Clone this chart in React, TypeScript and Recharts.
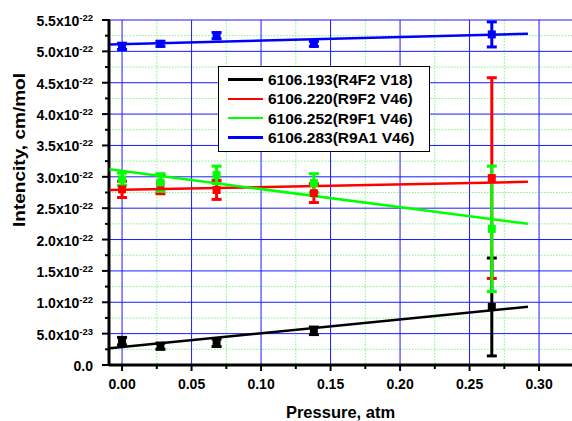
import React from 'react';
import {
  ComposedChart,
  Scatter,
  ErrorBar,
  XAxis,
  YAxis,
  CartesianGrid,
  Legend,
} from 'recharts';

// pressure (atm) of the five measurements
const pressure = [0, 0.0276, 0.068, 0.138, 0.266];

// intensities (cm/mol) and their errors, one pair per line
const int193 = [0.38e-22, 0.3e-22, 0.355e-22, 0.545e-22, 0.925e-22];
const err193 = [0.06e-22, 0.05e-22, 0.06e-22, 0.06e-22, 0.78e-22];
const int220 = [2.8e-22, 2.88e-22, 2.79e-22, 2.74e-22, 2.98e-22];
const err220 = [0.13e-22, 0.15e-22, 0.15e-22, 0.15e-22, 1.6e-22];
const int252 = [2.96e-22, 2.91e-22, 3.03e-22, 2.9e-22, 2.17e-22];
const err252 = [0.1e-22, 0.14e-22, 0.14e-22, 0.15e-22, 1.0e-22];
const int283 = [5.08e-22, 5.12e-22, 5.25e-22, 5.12e-22, 5.27e-22];
const err283 = [0.05e-22, 0.04e-22, 0.05e-22, 0.04e-22, 0.2e-22];

// linear fit end points
const fitX = [-0.009, 0.292];
const fit193 = [0.266e-22, 0.93e-22];
const fit220 = [2.79e-22, 2.92e-22];
const fit252 = [3.12e-22, 2.25e-22];
const fit283 = [5.11e-22, 5.28e-22];

const seriesNames = [
  '6106.193(R4F2 V18)',
  '6106.220(R9F2 V46)',
  '6106.252(R9F1 V46)',
  '6106.283(R9A1 V46)',
];
const seriesColors = ['#000000', '#ff0000', '#00ff00', '#0000ff'];

const xMajor = [0, 0.05, 0.1, 0.15, 0.2, 0.25, 0.3];
const xMinor = [0.025, 0.075, 0.125, 0.175, 0.225, 0.275];
const yMajor = [
  0, 0.5e-22, 1.0e-22, 1.5e-22, 2.0e-22, 2.5e-22, 3.0e-22, 3.5e-22, 4.0e-22, 4.5e-22,
  5.0e-22, 5.5e-22,
];
const yMinor = [
  0.25e-22, 0.75e-22, 1.25e-22, 1.75e-22, 2.25e-22, 2.75e-22, 3.25e-22, 3.75e-22,
  4.25e-22, 4.75e-22, 5.25e-22,
];

const FONT = '"Liberation Sans", Arial, sans-serif';

const points = (vals: number[], errs: number[]) =>
  pressure.map((x, i) => ({ x, y: vals[i], e: errs[i] }));
const fitPoints = (vals: number[]) => fitX.map((x, i) => ({ x, y: vals[i] }));

const Square = (color: string) => (p: any) => (
  <rect x={p.cx - 4} y={p.cy - 4} width={8} height={8} fill={color} />
);

const XTick = (props: any) => {
  const { x, y, payload } = props;
  const major = xMajor.includes(payload.value);
  return (
    <g>
      <line x1={x} x2={x} y1={y} y2={y + (major ? 6 : 4)} stroke="#000" strokeWidth={2} />
      {major && (
        <text
          x={x}
          y={y + 24}
          textAnchor="middle"
          fontFamily={FONT}
          fontWeight="bold"
          fontSize={14}
          fill="#000"
        >
          {payload.value.toFixed(2)}
        </text>
      )}
    </g>
  );
};

const YTick = (props: any) => {
  const { x, y, payload } = props;
  const v = payload.value;
  const major = yMajor.includes(v);
  let main = '0.0';
  let sup = '';
  if (v !== 0) {
    const exp = Math.floor(Math.log10(v) + 1e-9);
    main = (v / Math.pow(10, exp)).toFixed(1) + 'x10';
    sup = String(exp);
  }
  return (
    <g>
      <line x1={x - (major ? 7 : 4)} x2={x + 1} y1={y} y2={y} stroke="#000" strokeWidth={2} />
      {major && (
        <text
          x={x - 16}
          y={y + 6}
          textAnchor="end"
          fontFamily={FONT}
          fontWeight="bold"
          fontSize={14}
          fill="#000"
        >
          {main}
          {sup && (
            <tspan fontSize={9.5} dy={-5}>
              {sup}
            </tspan>
          )}
        </text>
      )}
    </g>
  );
};

const YTitle = () => (
  <text
    x={25}
    y={150}
    transform="rotate(-90, 25, 150)"
    textAnchor="middle"
    fontFamily={FONT}
    fontWeight="bold"
    fontSize={16}
    textLength={154}
    lengthAdjust="spacingAndGlyphs"
    fill="#000"
  >
    Intencity, cm/mol
  </text>
);

const XTitle = (props: any) => {
  const vb = props.viewBox || { x: 109, width: 463 };
  return (
    <text
      x={vb.x + vb.width / 2}
      y={418}
      textAnchor="middle"
      fontFamily={FONT}
      fontWeight="bold"
      fontSize={16.5}
      fill="#000"
    >
      Pressure, atm
    </text>
  );
};

const LegendBox = () => (
  <div
    style={{
      width: 210,
      height: 81,
      border: '1px solid #000',
      background: '#fff',
      paddingTop: 3,
      boxSizing: 'content-box',
      fontFamily: FONT,
      fontWeight: 'bold',
      fontSize: 15.5,
    }}
  >
    {seriesNames.map((name, i) => (
      <div key={name} style={{ display: 'flex', alignItems: 'center', height: 19.3, lineHeight: '19.3px' }}>
        <div style={{ width: 35, height: 2.5, background: seriesColors[i], marginLeft: 9, marginRight: 5 }} />
        <span style={{ whiteSpace: 'nowrap' }}>{name}</span>
      </div>
    ))}
  </div>
);

export default function App() {
  const sets = [
    { data: points(int193, err193), fit: fitPoints(fit193) },
    { data: points(int220, err220), fit: fitPoints(fit220) },
    { data: points(int252, err252), fit: fitPoints(fit252) },
    { data: points(int283, err283), fit: fitPoints(fit283) },
  ];

  return (
    <div style={{ position: 'absolute', left: 0, top: 0, background: '#fff' }}>
      <ComposedChart width={572} height={421} margin={{ top: 20, right: 0, left: 8, bottom: 0 }}>
        <CartesianGrid
          horizontalValues={yMinor}
          verticalValues={xMinor}
          stroke="#88ee88"
          strokeDasharray="1.5 1.5"
        />
        <CartesianGrid
          horizontalValues={yMajor}
          verticalValues={xMajor}
          stroke="#1a1aff"
          strokeDasharray=""
        />
        <XAxis
          type="number"
          dataKey="x"
          domain={[-0.0094, 0.3237]}
          allowDataOverflow
          ticks={[...xMajor, ...xMinor]}
          interval={0}
          height={56}
          tickSize={0}
          tickMargin={0}
          tickLine={false}
          axisLine={{ stroke: '#000', strokeWidth: 3 }}
          tick={<XTick />}
          label={<XTitle />}
        />
        <YAxis
          type="number"
          dataKey="y"
          domain={[0, 5.5e-22]}
          allowDataOverflow
          ticks={[...yMajor, ...yMinor]}
          interval={0}
          width={101}
          tickSize={0}
          tickMargin={0}
          tickLine={false}
          axisLine={{ stroke: '#000', strokeWidth: 3 }}
          tick={<YTick />}
          label={<YTitle />}
        />
        {sets.map((s, i) => (
          <Scatter
            key={'fit' + i}
            data={s.fit}
            line={{ stroke: seriesColors[i], strokeWidth: 2.5 }}
            shape={() => <g />}
            legendType="none"
            isAnimationActive={false}
          />
        ))}
        {sets.map((s, i) => (
          <Scatter
            key={'pts' + i}
            name={seriesNames[i]}
            data={s.data}
            fill={seriesColors[i]}
            shape={Square(seriesColors[i])}
            isAnimationActive={false}
          >
            <ErrorBar
              dataKey="e"
              direction="y"
              width={5}
              stroke={seriesColors[i]}
              strokeWidth={3}
              isAnimationActive={false}
            />
          </Scatter>
        ))}
        <Legend
          layout="vertical"
          align="center"
          verticalAlign="middle"
          wrapperStyle={{ left: 218, top: 66, width: 212, height: 85 }}
          content={<LegendBox />}
        />
      </ComposedChart>
    </div>
  );
}
